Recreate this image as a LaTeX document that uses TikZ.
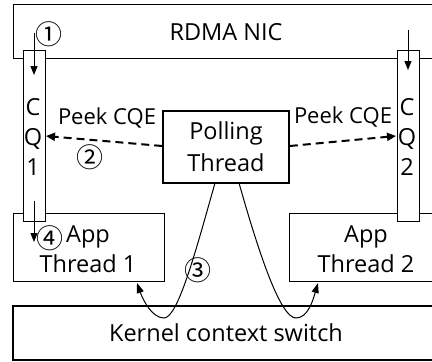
\documentclass[tikz,border=0pt]{standalone}
\usepackage{fontspec}
\setmainfont{Open Sans}
\newfontfamily\circfont{Noto Sans CJK SC}
\usetikzlibrary{arrows.meta}
\tikzset{
  txt/.style={font=\fontsize{23.5}{30}\selectfont, inner sep=0pt, align=center},
  lbl/.style={font=\fontsize{22}{26}\selectfont, inner sep=0pt},
  circ/.style={font=\circfont\fontsize{27}{27}\selectfont, inner sep=0pt},
  thinbox/.style={draw, line width=1pt},
  arr/.style={line width=1pt, -{Triangle[length=9pt,width=7pt]}},
  peek/.style={line width=2pt, dash pattern=on 8pt off 5pt, -{Triangle[length=9pt,width=8pt]}},
  swcurve/.style={line width=1pt, -{Triangle[length=10pt,width=7pt]}}
}
\begin{document}
\begin{tikzpicture}[x=1pt,y=-1pt]
\useasboundingbox (0,0) rectangle (432,362);
\clip (0,0) rectangle (432,362);
% NIC
\draw[thinbox] (13,4) rectangle (440,58);
\node[txt] (nic) at (226,32) {RDMA NIC};
% App threads
\draw[thinbox] (13,213) rectangle (164,281);
\node[txt] (app1) at (88,249) {App\\Thread 1};
\draw[thinbox] (289,213) rectangle (440,281);
\node[txt] (app2) at (366,249) {App\\Thread 2};
% Kernel
\draw[line width=2pt] (13,306) rectangle (440,360);
\node[txt] (kern) at (226,333) {Kernel context switch};
% CQs
\draw[thinbox, fill=white] (23,50) rectangle (45,221);
\draw[thinbox, fill=white] (397,50) rectangle (419,221);
\coordinate (cq1e) at (46,136);
\coordinate (cq2w) at (396,136);
\node[txt] (cq1) at (33,137) {C\\Q\\1};
\node[txt] (cq2) at (407,137) {C\\Q\\2};
% Polling thread
\node[draw, line width=1.6pt, minimum width=126pt, minimum height=72pt, inner sep=0pt, align=center, font=\fontsize{23.5}{32}\selectfont] (poll) at (226,147) {Polling\\Thread};
% arrows into CQ
\coordinate (a1s) at (34,33); \coordinate (a1e) at (34,75);
\draw[arr] (a1s) -- (a1e);
\coordinate (a2s) at (408,30); \coordinate (a2e) at (408,70);
\draw[arr] (a2s) -- (a2e);
\coordinate (a4s) at (34,201); \coordinate (a4e) at (34,242);
\draw[arr] (a4s) -- (a4e);
\node[circ] (c1) at (49,34) {①};
\node[circ] (c4) at (50,238) {④};
% peek
\draw[peek] (poll.west |- 0,146) -- (cq1e);
\draw[peek] (poll.east |- 0,146) -- (cq2w);
\node[lbl] (pk1) at (107,118) {Peek CQE};
\node[lbl] (pk2) at (343,117) {Peek CQE};
\node[circ] (c2) at (90,157) {②};
% context switch curves
\coordinate (p1) at (215,183);
\coordinate (p2) at (239,183);
\coordinate (t1) at (137,283);
\coordinate (t2) at (318,283);
\draw[swcurve] (p1) .. controls (196,250) and (178,318) .. (164,318) .. controls (152,318) and (143,300) .. (t1);
\draw[swcurve] (p2) .. controls (258,250) and (280,318) .. (296,318) .. controls (308,318) and (313,300) .. (t2);
\node[circ] (c3) at (198,270) {③};
\end{tikzpicture}
\end{document}
